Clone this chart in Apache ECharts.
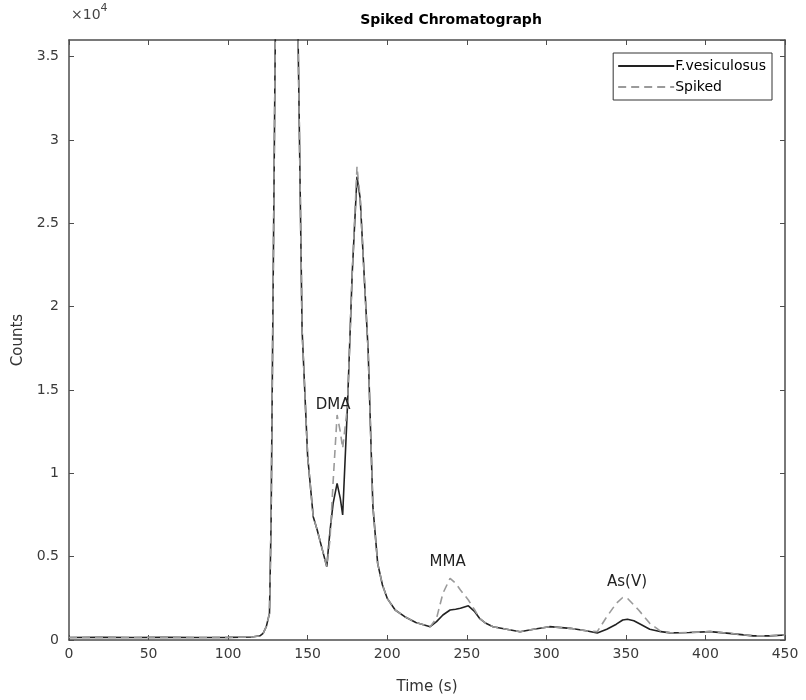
<!DOCTYPE html>
<html>

<head>
    <meta charset="utf-8">
    <script src="https://cdn.jsdelivr.net/npm/echarts@6/dist/echarts.min.js"></script>
</head>

<body style="margin:0">
    <div id="main" style="width: 806px;height:700px;"></div>
    <script type="text/javascript">
        // time points (s)
        var times = [0, 20, 40, 60, 80, 100, 115, 120, 122, 124, 126, 127, 128, 129, 130, 133, 137, 141, 144, 146.5,
            150, 153.5, 156, 159, 162, 164, 166, 168.5, 170.5, 172, 175, 178, 181, 183, 186, 188, 191, 194, 197, 200,
            205, 211, 218, 227, 231, 235, 239.5, 243, 246, 251, 255, 258, 262, 266.5, 275, 283.5, 292, 302, 315, 325,
            332, 338, 344, 348, 351, 355, 358, 365, 372, 378, 390, 403, 415, 430, 440, 450];

        // F.vesiculosus counts
        var fves = [150, 160, 150, 160, 150, 160, 180, 250, 400, 800, 1600, 7000, 18000, 29000, 40000, 62000, 70000, 57000, 36000, 18600,
            11000, 7400, 6600, 5500, 4400, 6500, 8200, 9400, 8500, 7500, 14000, 22000, 27800, 26500, 21000, 17400, 8000, 4600, 3300, 2500,
            1800, 1400, 1050, 800, 1100, 1500, 1800, 1850, 1900, 2050, 1700, 1300, 1000, 800, 650, 500, 650, 800, 700, 550,
            420, 650, 950, 1200, 1250, 1150, 1000, 650, 500, 430, 450, 500, 400, 250, 250, 300];

        // Spiked counts
        var spiked = [150, 160, 150, 160, 150, 160, 180, 250, 400, 800, 1600, 7000, 18000, 29000, 40000, 62000, 70000, 57000, 36000, 18600,
            11000, 7400, 6600, 5500, 4400, 6000, 9500, 13500, 12500, 11500, 14000, 22000, 28400, 26500, 21000, 17400, 8000, 4600, 3300, 2500,
            1800, 1400, 1050, 800, 1300, 2800, 3700, 3400, 3000, 2400, 1800, 1300, 1000, 800, 650, 500, 650, 800, 700, 550,
            500, 1400, 2200, 2550, 2500, 2100, 1800, 1000, 520, 430, 450, 500, 400, 250, 250, 300];

        // peak labels and their [time, counts] positions
        var peakNames = ['DMA', 'MMA', 'As(V)'];
        var peakPos = [[166, 14100], [238, 4700], [350.7, 3500]];

        function pairs(xs, ys) {
            return xs.map(function (x, i) { return [x, ys[i]]; });
        }

        var axisColor = '#4d4d4d';
        var font = 'DejaVu Sans, Liberation Sans, sans-serif';

        var myChart = echarts.init(document.getElementById('main'));

        var option = {
            animation: false,
            backgroundColor: '#fff',
            title: {
                text: 'Spiked Chromatograph',
                left: 446,
                top: 8,
                textAlign: 'center',
                textStyle: { fontFamily: font, fontSize: 14, fontWeight: 'bold', color: '#000' }
            },
            grid: { left: 69, right: 21, top: 40, bottom: 60 },
            legend: {
                orient: 'vertical',
                right: 34,
                top: 53,
                backgroundColor: '#fff',
                borderColor: '#333',
                borderWidth: 1,
                borderRadius: 0,
                padding: [6, 6, 6, 4],
                itemGap: 7,
                itemWidth: 56,
                itemHeight: 16,
                itemStyle: { opacity: 0 },
                textStyle: { fontFamily: font, fontSize: 14, color: '#000', padding: [0, 0, 0, -4] },
                data: ['F.vesiculosus', 'Spiked']
            },
            graphic: [{
                type: 'text',
                left: 71,
                top: 3,
                style: {
                    text: '{a|×10}{b|4}',
                    fill: '#444',
                    rich: {
                        a: { fontFamily: font, fontSize: 14, fill: '#444', verticalAlign: 'bottom' },
                        b: { fontFamily: font, fontSize: 11, fill: '#444', verticalAlign: 'top', padding: [0, 0, 8, 0] }
                    }
                }
            }],
            xAxis: [{
                type: 'value',
                min: 0,
                max: 450,
                interval: 50,
                name: 'Time (s)',
                nameLocation: 'middle',
                nameGap: 40,
                nameTextStyle: { fontFamily: font, fontSize: 15, color: '#333' },
                axisLine: { onZero: false, lineStyle: { color: axisColor, width: 1.5 } },
                axisTick: { inside: true, length: 5, lineStyle: { color: axisColor } },
                axisLabel: { fontFamily: font, fontSize: 14, color: '#3a3a3a', margin: 7 },
                splitLine: { show: false }
            }, {
                type: 'value',
                position: 'top',
                min: 0,
                max: 450,
                interval: 50,
                axisLine: { onZero: false, lineStyle: { color: axisColor, width: 1.5 } },
                axisTick: { inside: true, length: 5, lineStyle: { color: axisColor } },
                axisLabel: { show: false },
                splitLine: { show: false }
            }],
            yAxis: [{
                type: 'value',
                min: 0,
                max: 36000,
                interval: 5000,
                name: 'Counts',
                nameLocation: 'middle',
                nameGap: 43,
                nameTextStyle: { fontFamily: font, fontSize: 15, color: '#333' },
                axisLine: { show: true, onZero: false, lineStyle: { color: axisColor, width: 1.5 } },
                axisTick: { show: true, inside: true, length: 5, lineStyle: { color: axisColor } },
                axisLabel: {
                    fontFamily: font, fontSize: 14, color: '#3a3a3a', margin: 10, showMaxLabel: false,
                    formatter: function (v) { return v > 35000 ? '' : String(v / 10000); }
                },
                splitLine: { show: false }
            }, {
                type: 'value',
                position: 'right',
                min: 0,
                max: 36000,
                interval: 5000,
                axisLine: { show: true, onZero: false, lineStyle: { color: axisColor, width: 1.5 } },
                axisTick: { show: true, inside: true, length: 5, lineStyle: { color: axisColor } },
                axisLabel: { show: false },
                splitLine: { show: false }
            }],
            series: [{
                name: 'F.vesiculosus',
                type: 'line',
                symbol: 'none',
                clip: true,
                lineStyle: { color: '#222', width: 1.6 },
                itemStyle: { color: '#222' },
                data: pairs(times, fves),
                markPoint: {
                    symbol: 'circle',
                    symbolSize: 1,
                    itemStyle: { color: 'rgba(0,0,0,0)' },
                    label: {
                        show: true,
                        position: 'inside',
                        fontFamily: font,
                        fontSize: 15,
                        color: '#222',
                        formatter: function (p) { return p.name; }
                    },
                    data: peakNames.map(function (n, i) {
                        return { name: n, coord: peakPos[i] };
                    })
                }
            }, {
                name: 'Spiked',
                type: 'line',
                symbol: 'none',
                clip: true,
                lineStyle: { color: '#9a9a9a', width: 1.6, type: [8, 5] },
                itemStyle: { color: '#9a9a9a' },
                data: pairs(times, spiked)
            }]
        };
        myChart.setOption(option);
    </script>
</body>

</html>
